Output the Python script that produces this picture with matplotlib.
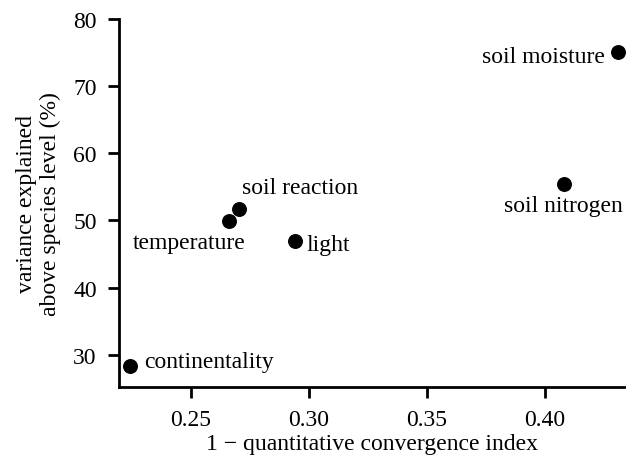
import matplotlib
matplotlib.use('Agg')
from matplotlib import pyplot as plt

plt.rcParams['font.family'] = ['Liberation Serif', 'DejaVu Serif']
plt.rcParams['font.size'] = 17

# values
names = ['soil moisture', 'soil nitrogen', 'soil reaction', 'temperature', 'light', 'continentality']
x_vals = [0.431, 0.408, 0.2703, 0.2661, 0.2941, 0.2242]
y_vals = [75.1, 55.4, 51.7, 49.9, 47.0, 28.4]

# label placement: offset in points, ha, va
label_pos = {
    'soil moisture': ((-9, -3), 'right', 'center'),
    'soil nitrogen': ((0, -8), 'center', 'top'),
    'soil reaction': ((2, 8), 'left', 'bottom'),
    'temperature': ((12, -8), 'right', 'top'),
    'light': ((8, -3), 'left', 'center'),
    'continentality': ((10, 3), 'left', 'center'),
}

fig = plt.figure(figsize=(6.26, 4.64), dpi=100)
ax = fig.add_axes([119 / 626, 76 / 464, (626 - 119) / 626, (388 - 20) / 464])

ax.scatter(x_vals, y_vals, s=95, color='black', zorder=3, clip_on=False)

for name, xv, yv in zip(names, x_vals, y_vals):
    off, ha, va = label_pos[name]
    ax.annotate(name, (xv, yv), xytext=off, textcoords='offset points',
                ha=ha, va=va, fontsize=17)

ax.set_xlim(0.2195, 0.4345)
ax.set_ylim(25.2, 80)
ax.set_xticks([0.25, 0.30, 0.35, 0.40])
ax.set_xticklabels(['0.25', '0.30', '0.35', '0.40'])
ax.set_yticks([30, 40, 50, 60, 70, 80])

for side in ['top', 'right']:
    ax.spines[side].set_visible(False)
for side in ['left', 'bottom']:
    ax.spines[side].set_linewidth(2)

ax.tick_params(direction='out', length=8, width=2, labelsize=17, pad=8)

ax.set_xlabel('1 \u2212 quantitative convergence index', fontsize=17, labelpad=2)
ax.set_ylabel('variance explained\nabove species level (%)', fontsize=17,
              labelpad=9, linespacing=1.15)

fig.savefig('out.png', dpi=100)
